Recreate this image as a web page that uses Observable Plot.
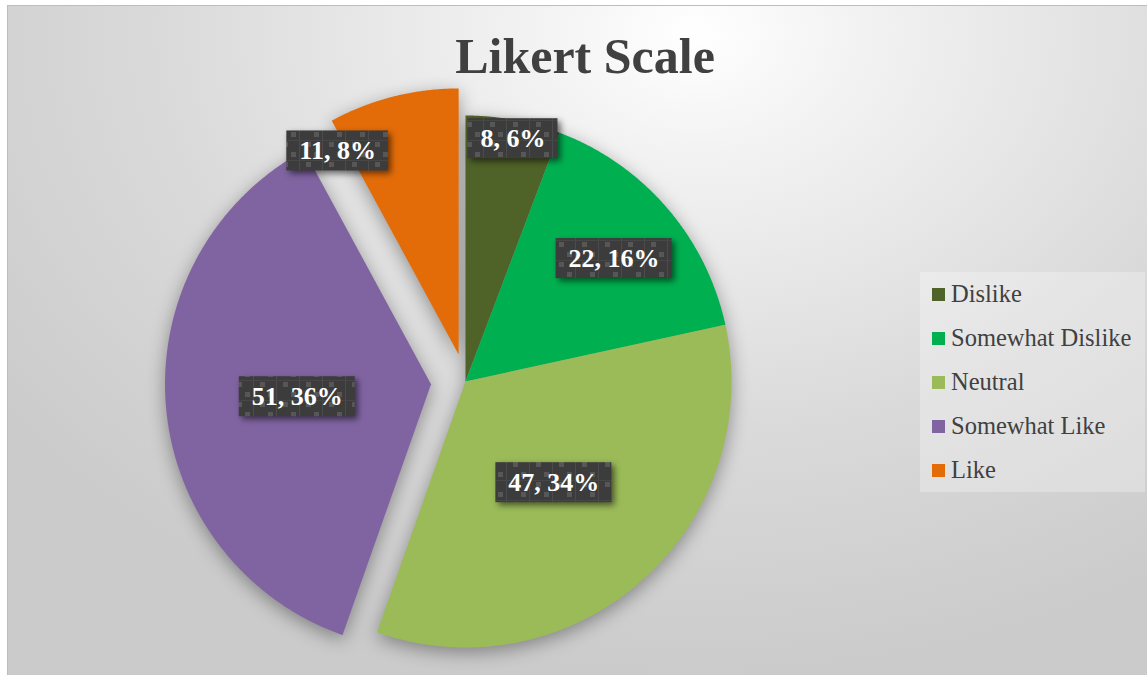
<!DOCTYPE html>
<html>
<head>
<meta charset="utf-8">
<script src="https://cdn.jsdelivr.net/npm/d3@7"></script>
<script src="https://cdn.jsdelivr.net/npm/@observablehq/plot@0.6"></script>
<style>
html,body{margin:0;padding:0;background:#ffffff;width:1147px;height:675px;overflow:hidden;position:relative;}
#frame{position:absolute;left:7px;top:5px;width:1145px;height:675px;border-left:1px solid #bdbdbd;border-top:1px solid #bdbdbd;
  background:radial-gradient(ellipse 75% 95% at 60% 4%, #ffffff 0%, #f3f3f3 18%, #dadada 62%, #cbcbcb 100%);}
#title{position:absolute;left:0;width:1170px;top:31px;text-align:center;font:bold 50px/50px "Liberation Serif",serif;color:#404040;}
#chart{position:absolute;left:0;top:0;}
#chart g[aria-label="line"]{filter:drop-shadow(0px 5px 9px rgba(0,0,0,0.36));}
#chart g[aria-label="rect"]{filter:drop-shadow(3px 3px 3px rgba(0,0,0,0.55));}
#legend{position:absolute;left:920px;top:272px;width:225px;height:220px;background:rgba(255,255,255,0.28);}
#legend .lg-swatches{margin:0;padding:0 0 0 12px;font:24.5px "Liberation Serif",serif;color:#404040;}
#legend .lg-swatch{height:44px;padding:0;margin:0;display:flex;align-items:center;}
#legend .lg-swatch svg{margin-right:6px;}
</style>
</head>
<body>
<div id="frame"></div>
<div id="chart"></div>
<div id="title">Likert Scale</div>
<div id="legend"></div>
<script>
// ---- data ----
const categories = ["Dislike", "Somewhat Dislike", "Neutral", "Somewhat Like", "Like"];
const counts = [8, 22, 47, 51, 11];
const percentLabels = ["6%", "16%", "34%", "36%", "8%"];
const sliceColors = ["#4F6228", "#00B050", "#9BBB59", "#8064A2", "#E36C09"];

// ---- layout ----
const CX = 465, CY = 381, R = 266;
const explode = [0, 0, 0, 0.13, 0.105];
const labelR = [0.93, 0.725, 0.505, 0.505, 0.89];
const labelTurnDeg = [0.7, 1.2, 0.3, -0.8, -16.5];

const arcs = d3.pie().sort(null).value(d => d)(counts);

const slicePts = [];
arcs.forEach((a, i) => {
  const mid = (a.startAngle + a.endAngle) / 2;
  const ox = explode[i] * Math.sin(mid), oy = explode[i] * Math.cos(mid);
  slicePts.push({cat: categories[i], x: ox, y: oy});
  const n = Math.max(2, Math.ceil((a.endAngle - a.startAngle) / 0.005));
  for (let k = 0; k <= n; k++) {
    const t = a.startAngle + (a.endAngle - a.startAngle) * k / n;
    slicePts.push({cat: categories[i], x: ox + Math.sin(t), y: oy + Math.cos(t)});
  }
});

const ctx = document.createElement("canvas").getContext("2d");
ctx.font = 'bold 26px "Liberation Serif"';
const labels = arcs.map((a, i) => {
  const mid = (a.startAngle + a.endAngle) / 2;
  const ox = explode[i] * Math.sin(mid), oy = explode[i] * Math.cos(mid);
  const ang = mid + labelTurnDeg[i] * Math.PI / 180;
  const x = ox + labelR[i] * Math.sin(ang), y = oy + labelR[i] * Math.cos(ang);
  const text = `${counts[i]}, ${percentLabels[i]}`;
  const hw = (ctx.measureText(text).width / 2 + 12.5) / R, hh = 20 / R;
  return {cat: categories[i], text, x, y, x1: x - hw, x2: x + hw, y1: y - hh, y2: y + hh};
});

const svg = Plot.plot({
  width: 1147,
  height: 675,
  margin: 0,
  style: {background: "transparent", overflow: "visible"},
  x: {domain: [-1, 1], range: [CX - R, CX + R], axis: null},
  y: {domain: [-1, 1], range: [CY + R, CY - R], axis: null},
  color: {domain: categories, range: sliceColors},
  marks: [
    Plot.line(slicePts, {x: "x", y: "y", z: "cat", fill: "cat", stroke: "none", curve: "linear-closed"}),
    Plot.rect(labels, {x1: "x1", x2: "x2", y1: "y1", y2: "y2", fill: "url(#lblpat)"}),
    Plot.text(labels, {x: "x", y: "y", text: "text", fill: "white", fontSize: 26, fontWeight: "bold", fontFamily: "Liberation Serif"})
  ]
});

const defs = d3.select(svg).insert("defs", ":first-child");
const p = defs.append("pattern").attr("id", "lblpat").attr("patternUnits", "userSpaceOnUse").attr("width", 23).attr("height", 20);
p.append("rect").attr("width", 23).attr("height", 20).attr("fill", "#3c3c3c");
p.append("rect").attr("width", 1).attr("height", 20).attr("fill", "#4b4b4b");
p.append("rect").attr("width", 23).attr("height", 1).attr("fill", "#474747");
p.append("rect").attr("x", 7).attr("y", 2).attr("width", 5).attr("height", 5).attr("fill", "#575757");
p.append("rect").attr("x", 15).attr("y", 12).attr("width", 5).attr("height", 5).attr("fill", "#575757");
document.getElementById("chart").appendChild(svg);

const legend = Plot.legend({
  color: {domain: categories, range: sliceColors},
  columns: 1,
  swatchSize: 13,
  className: "lg"
});
document.getElementById("legend").appendChild(legend);
</script>
</body>
</html>
